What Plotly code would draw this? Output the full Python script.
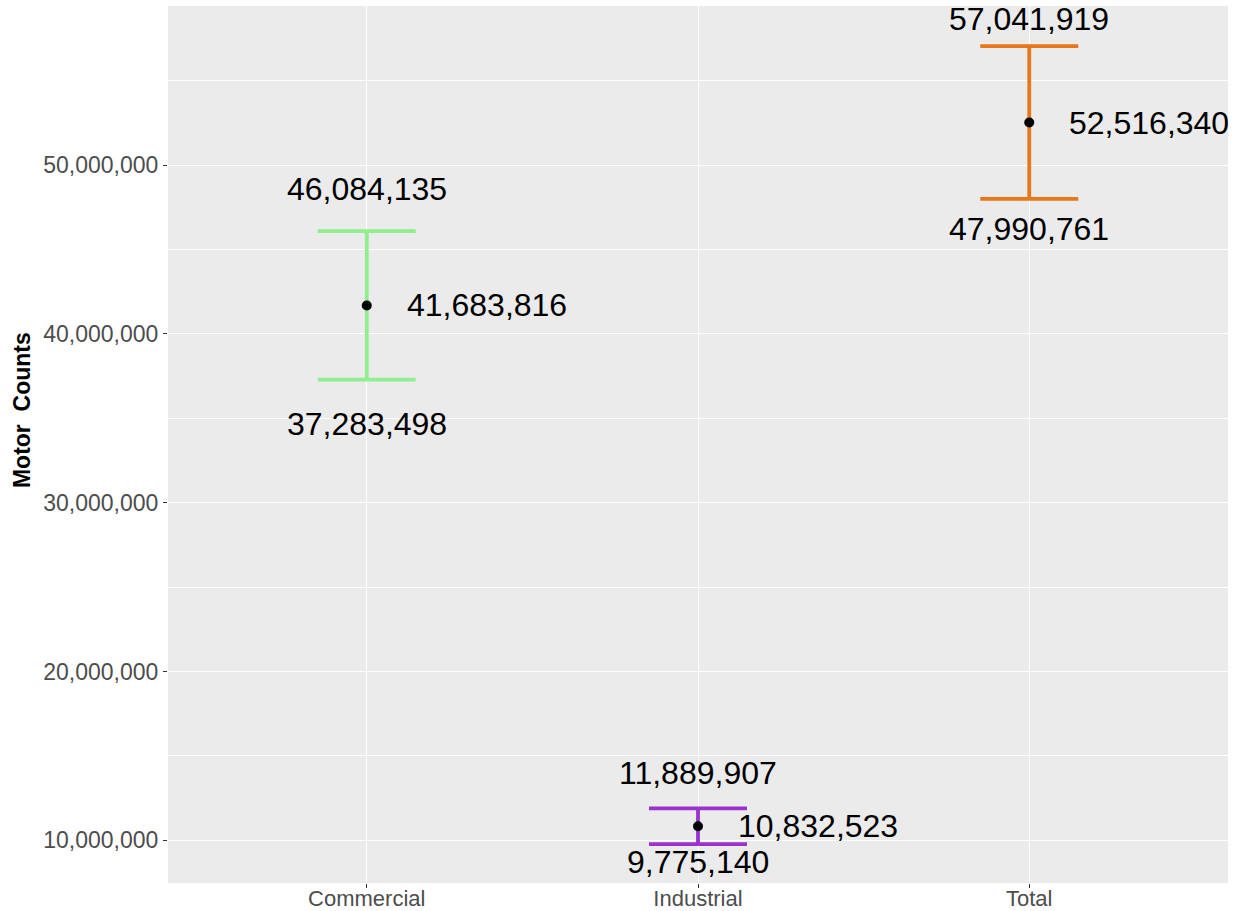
import plotly.graph_objects as go

categories = ["Commercial", "Industrial", "Total"]
mean_vals = [41683816, 10832523, 52516340]
lower_vals = [37283498, 9775140, 47990761]
upper_vals = [46084135, 11889907, 57041919]
colors = ["#90EE90", "#9A32CD", "#E8771A"]

# label pixel offsets (style)
upper_shift = [42, 35, 27]
lower_shift = [-44, -18, -30]

xs = list(range(len(categories)))

fig = go.Figure()
for i, c in enumerate(categories):
    fig.add_trace(go.Scatter(
        x=[xs[i]], y=[mean_vals[i]], mode="markers",
        marker=dict(size=1, color=colors[i], opacity=0),
        error_y=dict(type="data", symmetric=False,
                     array=[upper_vals[i] - mean_vals[i]],
                     arrayminus=[mean_vals[i] - lower_vals[i]],
                     color=colors[i], thickness=3.8, width=49),
        showlegend=False, hoverinfo="skip"))

fig.add_trace(go.Scatter(x=xs, y=mean_vals, mode="markers",
                         marker=dict(size=10, color="black"),
                         showlegend=False))

lab_font = dict(family="Liberation Sans, Arial, sans-serif", size=32, color="black")
for i, c in enumerate(categories):
    fig.add_annotation(x=xs[i], y=upper_vals[i], text=f"{upper_vals[i]:,}",
                       showarrow=False, yshift=upper_shift[i], font=lab_font,
                       xanchor="center", yanchor="middle")
    fig.add_annotation(x=xs[i], y=lower_vals[i], text=f"{lower_vals[i]:,}",
                       showarrow=False, yshift=lower_shift[i], font=lab_font,
                       xanchor="center", yanchor="middle")
    fig.add_annotation(x=xs[i], y=mean_vals[i], text=f"{mean_vals[i]:,}",
                       showarrow=False, xshift=120, font=lab_font,
                       xanchor="center", yanchor="middle")

fig.add_annotation(xref="paper", yref="paper", x=-0.1377, y=0.5393,
                   text="<b>Motor  Counts</b>", textangle=-90, showarrow=False,
                   font=dict(family="Liberation Sans, Arial, sans-serif", size=23, color="black"),
                   xanchor="center", yanchor="middle")

fig.update_layout(
    width=1241, height=911, autosize=False,
    margin=dict(l=168, r=13, t=6, b=28),
    paper_bgcolor="white", plot_bgcolor="#EBEBEB",
    font=dict(family="Liberation Sans, Arial, sans-serif"),
)
fig.update_xaxes(range=[-0.6, 2.6], tickvals=xs, ticktext=categories, automargin=False,
                 showgrid=True, gridcolor="white", gridwidth=1.2, zeroline=False,
                 ticks="outside", ticklen=4, tickcolor="#333333", tickwidth=1,
                 ticklabelstandoff=-8,
                 tickfont=dict(size=22, color="#4D4D4D"), showline=False)
fig.update_yaxes(range=[7.47e6, 59.42e6], tick0=0, dtick=1e7, tickformat=",", automargin=False,
                 showgrid=True, gridcolor="white", gridwidth=1.2, zeroline=False,
                 ticks="outside", ticklen=4, tickcolor="#333333", tickwidth=1,
                 tickfont=dict(size=23, color="#4D4D4D"), showline=False,
                 minor=dict(dtick=5e6, tick0=0, showgrid=True, gridcolor="white", gridwidth=0.6))

fig.write_html("out.html", config={"displayModeBar": False},
               post_script="document.body.style.margin='0';")
